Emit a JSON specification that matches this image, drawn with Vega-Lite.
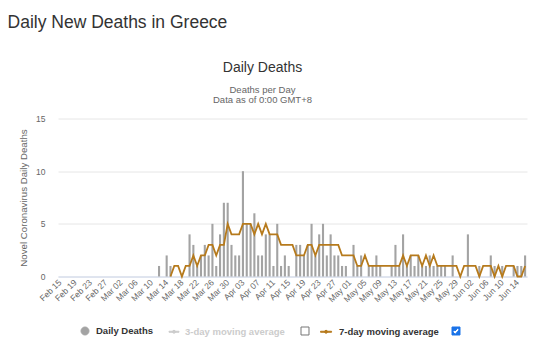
{
  "$schema": "https://vega.github.io/schema/vega-lite/v6.json",
  "autosize": {"type": "pad"},
  "padding": {"left": 7, "top": 13.5, "right": 0, "bottom": 0},
  "background": "#ffffff",
  "title": {"text": "Daily New Deaths in Greece", "anchor": "start", "frame": "bounds", "font": "Liberation Sans", "fontSize": 17.5, "fontWeight": "normal", "color": "#333333", "offset": 29, "dx": -11},
  "datasets": {
    "days": [
      {"day": "Feb 15", "deaths": 0, "ma7": null}, {"day": "Feb 16", "deaths": 0, "ma7": null}, {"day": "Feb 17", "deaths": 0, "ma7": null}, {"day": "Feb 18", "deaths": 0, "ma7": null}, {"day": "Feb 19", "deaths": 0, "ma7": null}, {"day": "Feb 20", "deaths": 0, "ma7": null}, {"day": "Feb 21", "deaths": 0, "ma7": null}, {"day": "Feb 22", "deaths": 0, "ma7": null}, {"day": "Feb 23", "deaths": 0, "ma7": null}, {"day": "Feb 24", "deaths": 0, "ma7": null}, {"day": "Feb 25", "deaths": 0, "ma7": null}, {"day": "Feb 26", "deaths": 0, "ma7": null}, {"day": "Feb 27", "deaths": 0, "ma7": null}, {"day": "Feb 28", "deaths": 0, "ma7": null}, {"day": "Feb 29", "deaths": 0, "ma7": null},
      {"day": "Mar 01", "deaths": 0, "ma7": null}, {"day": "Mar 02", "deaths": 0, "ma7": null}, {"day": "Mar 03", "deaths": 0, "ma7": null}, {"day": "Mar 04", "deaths": 0, "ma7": null}, {"day": "Mar 05", "deaths": 0, "ma7": null}, {"day": "Mar 06", "deaths": 0, "ma7": null}, {"day": "Mar 07", "deaths": 0, "ma7": null}, {"day": "Mar 08", "deaths": 0, "ma7": null}, {"day": "Mar 09", "deaths": 0, "ma7": null}, {"day": "Mar 10", "deaths": 0, "ma7": null}, {"day": "Mar 11", "deaths": 0, "ma7": null},
      {"day": "Mar 12", "deaths": 1, "ma7": null}, {"day": "Mar 13", "deaths": 0, "ma7": null}, {"day": "Mar 14", "deaths": 2, "ma7": null}, {"day": "Mar 15", "deaths": 1, "ma7": 0}, {"day": "Mar 16", "deaths": 0, "ma7": 1}, {"day": "Mar 17", "deaths": 0, "ma7": 1}, {"day": "Mar 18", "deaths": 0, "ma7": 0}, {"day": "Mar 19", "deaths": 0, "ma7": 1}, {"day": "Mar 20", "deaths": 4, "ma7": 1}, {"day": "Mar 21", "deaths": 3, "ma7": 2}, {"day": "Mar 22", "deaths": 1, "ma7": 1}, {"day": "Mar 23", "deaths": 2, "ma7": 2}, {"day": "Mar 24", "deaths": 3, "ma7": 2}, {"day": "Mar 25", "deaths": 2, "ma7": 3}, {"day": "Mar 26", "deaths": 5, "ma7": 3}, {"day": "Mar 27", "deaths": 1, "ma7": 2}, {"day": "Mar 28", "deaths": 4, "ma7": 3}, {"day": "Mar 29", "deaths": 7, "ma7": 3}, {"day": "Mar 30", "deaths": 7, "ma7": 5}, {"day": "Mar 31", "deaths": 3, "ma7": 4},
      {"day": "Apr 01", "deaths": 2, "ma7": 4}, {"day": "Apr 02", "deaths": 2, "ma7": 4}, {"day": "Apr 03", "deaths": 10, "ma7": 5}, {"day": "Apr 04", "deaths": 5, "ma7": 5}, {"day": "Apr 05", "deaths": 5, "ma7": 5}, {"day": "Apr 06", "deaths": 6, "ma7": 4}, {"day": "Apr 07", "deaths": 2, "ma7": 5}, {"day": "Apr 08", "deaths": 2, "ma7": 4}, {"day": "Apr 09", "deaths": 4, "ma7": 5}, {"day": "Apr 10", "deaths": 4, "ma7": 4}, {"day": "Apr 11", "deaths": 1, "ma7": 4}, {"day": "Apr 12", "deaths": 5, "ma7": 4}, {"day": "Apr 13", "deaths": 1, "ma7": 3}, {"day": "Apr 14", "deaths": 2, "ma7": 3}, {"day": "Apr 15", "deaths": 1, "ma7": 3}, {"day": "Apr 16", "deaths": 0, "ma7": 3}, {"day": "Apr 17", "deaths": 3, "ma7": 2}, {"day": "Apr 18", "deaths": 3, "ma7": 2}, {"day": "Apr 19", "deaths": 2, "ma7": 2}, {"day": "Apr 20", "deaths": 3, "ma7": 3}, {"day": "Apr 21", "deaths": 5, "ma7": 3}, {"day": "Apr 22", "deaths": 2, "ma7": 2}, {"day": "Apr 23", "deaths": 4, "ma7": 3}, {"day": "Apr 24", "deaths": 5, "ma7": 3}, {"day": "Apr 25", "deaths": 2, "ma7": 3}, {"day": "Apr 26", "deaths": 4, "ma7": 3}, {"day": "Apr 27", "deaths": 2, "ma7": 3}, {"day": "Apr 28", "deaths": 2, "ma7": 3}, {"day": "Apr 29", "deaths": 1, "ma7": 2}, {"day": "Apr 30", "deaths": 1, "ma7": 2},
      {"day": "May 01", "deaths": 0, "ma7": 2}, {"day": "May 02", "deaths": 3, "ma7": 2}, {"day": "May 03", "deaths": 1, "ma7": 1}, {"day": "May 04", "deaths": 2, "ma7": 1}, {"day": "May 05", "deaths": 0, "ma7": 2}, {"day": "May 06", "deaths": 1, "ma7": 1}, {"day": "May 07", "deaths": 1, "ma7": 1}, {"day": "May 08", "deaths": 2, "ma7": 1}, {"day": "May 09", "deaths": 1, "ma7": 1}, {"day": "May 10", "deaths": 0, "ma7": 1}, {"day": "May 11", "deaths": 0, "ma7": 1}, {"day": "May 12", "deaths": 1, "ma7": 1}, {"day": "May 13", "deaths": 3, "ma7": 1}, {"day": "May 14", "deaths": 1, "ma7": 1}, {"day": "May 15", "deaths": 4, "ma7": 2}, {"day": "May 16", "deaths": 1, "ma7": 1}, {"day": "May 17", "deaths": 2, "ma7": 2}, {"day": "May 18", "deaths": 1, "ma7": 2}, {"day": "May 19", "deaths": 2, "ma7": 2}, {"day": "May 20", "deaths": 1, "ma7": 1}, {"day": "May 21", "deaths": 1, "ma7": 2}, {"day": "May 22", "deaths": 2, "ma7": 1}, {"day": "May 23", "deaths": 1, "ma7": 2}, {"day": "May 24", "deaths": 1, "ma7": 1}, {"day": "May 25", "deaths": 1, "ma7": 1}, {"day": "May 26", "deaths": 1, "ma7": 1}, {"day": "May 27", "deaths": 0, "ma7": 1}, {"day": "May 28", "deaths": 2, "ma7": 1}, {"day": "May 29", "deaths": 0, "ma7": 1}, {"day": "May 30", "deaths": 0, "ma7": 0}, {"day": "May 31", "deaths": 0, "ma7": 1},
      {"day": "Jun 01", "deaths": 4, "ma7": 1}, {"day": "Jun 02", "deaths": 0, "ma7": 1}, {"day": "Jun 03", "deaths": 0, "ma7": 1}, {"day": "Jun 04", "deaths": 1, "ma7": 0}, {"day": "Jun 05", "deaths": 0, "ma7": 1}, {"day": "Jun 06", "deaths": 0, "ma7": 1}, {"day": "Jun 07", "deaths": 2, "ma7": 1}, {"day": "Jun 08", "deaths": 1, "ma7": 0}, {"day": "Jun 09", "deaths": 0, "ma7": 1}, {"day": "Jun 10", "deaths": 1, "ma7": 0}, {"day": "Jun 11", "deaths": 0, "ma7": 1}, {"day": "Jun 12", "deaths": 0, "ma7": 1}, {"day": "Jun 13", "deaths": 1, "ma7": 1}, {"day": "Jun 14", "deaths": 1, "ma7": 0}, {"day": "Jun 15", "deaths": 1, "ma7": 0}, {"day": "Jun 16", "deaths": 2, "ma7": 1}
    ],
    "legend": [
      {"series": "Daily Deaths"}, {"series": "3-day moving average"}, {"series": "b1"}, {"series": "7-day moving average"}, {"series": "b2"}
    ]
  },
  "config": {
    "view": {"stroke": null},
    "font": "Liberation Sans",
    "legend": {
      "symbolSize": 169,
      "symbolStrokeWidth": 1,
      "symbolOpacity": 1,
      "labelOffset": 4,
      "columnPadding": 2,
      "padding": 0,
      "labelFont": "Liberation Sans",
      "labelFontSize": 9.5,
      "labelFontWeight": "bold",
      "titleFontSize": 0
    }
  },
  "vconcat": [
    {
      "width": 469,
      "height": 158,
      "title": {
        "text": "Daily Deaths",
        "subtitle": ["Deaths per Day", "Data as of 0:00 GMT+8"],
        "anchor": "middle",
        "frame": "group",
        "dx": -30,
        "font": "Liberation Sans",
        "fontSize": 14,
        "fontWeight": "normal",
        "color": "#333333",
        "subtitleFont": "Liberation Sans",
        "subtitleFontSize": 9.5,
        "subtitleColor": "#666666",
        "subtitlePadding": 10.5,
        "subtitleLineHeight": 10,
        "offset": 10
      },
      "layer": [
        {
          "data": {"name": "days"},
          "mark": {"type": "bar", "color": "#a3a3a3", "width": {"band": 0.55}},
          "encoding": {
            "x": {
              "field": "day", "type": "ordinal", "sort": null,
              "scale": {"paddingInner": 0, "paddingOuter": 0},
              "axis": {
                "title": null,
                "values": ["Feb 15", "Feb 19", "Feb 23", "Feb 27", "Mar 02", "Mar 06", "Mar 10", "Mar 14", "Mar 18", "Mar 22", "Mar 26", "Mar 30", "Apr 03", "Apr 07", "Apr 11", "Apr 15", "Apr 19", "Apr 23", "Apr 27", "May 01", "May 05", "May 09", "May 13", "May 17", "May 21", "May 25", "May 29", "Jun 02", "Jun 06", "Jun 10", "Jun 14"],
                "labelAngle": -45,
                "labelAlign": "right",
                "labelBaseline": "middle",
                "labelFont": "Liberation Sans",
                "labelFontSize": 8.5,
                "labelColor": "#666666",
                "labelPadding": 4,
                "labelOverlap": false,
                "ticks": false,
                "grid": false,
                "domainColor": "#ccd6eb",
                "domainWidth": 1
              }
            },
            "y": {
              "field": "deaths", "type": "quantitative",
              "scale": {"domain": [0, 15], "nice": false},
              "axis": {
                "values": [0, 5, 10, 15],
                "title": "Novel Coronavirus Daily Deaths",
                "titleFont": "Liberation Sans",
                "titleFontSize": 9.7,
                "titleFontWeight": "normal",
                "titleColor": "#666666",
                "titlePadding": 7,
                "labelFont": "Liberation Sans",
                "labelFontSize": 8.5,
                "labelColor": "#666666",
                "labelPadding": 13,
                "domain": false,
                "ticks": false,
                "grid": true,
                "gridColor": "#e6e6e6"
              }
            }
          }
        },
        {
          "data": {"name": "days"},
          "mark": {"type": "line", "color": "#b67a1c", "strokeWidth": 1.8},
          "encoding": {
            "x": {"field": "day", "type": "ordinal", "sort": null},
            "y": {"field": "ma7", "type": "quantitative"}
          }
        },
        {
          "data": {"name": "legend"},
          "mark": {"type": "point", "filled": true, "opacity": 0},
          "encoding": {
            "fill": {
              "field": "series", "type": "nominal",
              "scale": {"domain": ["Daily Deaths", "3-day moving average", "b1", "7-day moving average", "b2"], "range": ["#a3a3a3", "#cccccc", "#ffffff", "#b67a1c", "#1a73e8"]},
              "legend": {"orient": "none", "legendX": 20, "legendY": 205.5, "direction": "horizontal", "title": null,
                "labelExpr": "datum.value == 'b1' || datum.value == 'b2' ? '' : datum.value == 'Daily Deaths' ? 'Daily Deaths\u00a0\u00a0\u00a0\u00a0\u200b' : datum.value == '3-day moving average' ? '3-day moving average\u00a0\u00a0\u00a0\u00a0\u200b' : '7-day moving average\u00a0\u00a0\u00a0\u200b'",
                "labelColor": {"expr": "datum.value == '3-day moving average' ? '#cccccc' : '#333333'"}}
            },
            "stroke": {
              "field": "series", "type": "nominal",
              "scale": {"domain": ["Daily Deaths", "3-day moving average", "b1", "7-day moving average", "b2"], "range": ["#a3a3a3", "#cccccc", "#767676", "#b67a1c", "#1a73e8"]},
              "legend": {"orient": "none", "legendX": 20, "legendY": 205.5, "direction": "horizontal", "title": null,
                "labelExpr": "datum.value == 'b1' || datum.value == 'b2' ? '' : datum.value == 'Daily Deaths' ? 'Daily Deaths\u00a0\u00a0\u00a0\u00a0\u200b' : datum.value == '3-day moving average' ? '3-day moving average\u00a0\u00a0\u00a0\u00a0\u200b' : '7-day moving average\u00a0\u00a0\u00a0\u200b'",
                "labelColor": {"expr": "datum.value == '3-day moving average' ? '#cccccc' : '#333333'"}}
            },
            "shape": {
              "field": "series", "type": "nominal",
              "scale": {"domain": ["Daily Deaths", "3-day moving average", "b1", "7-day moving average", "b2"], "range": [
                "M-0.615,0A0.615,0.615 0 1,1 0.615,0A0.615,0.615 0 1,1 -0.615,0Z",
                "M-0.77,-0.077H0.77V0.077H-0.77ZM-0.23,0A0.23,0.23 0 1,1 0.23,0A0.23,0.23 0 1,1 -0.23,0Z",
                "M-0.615,-0.615H0.615V0.615H-0.615Z",
                "M-1.15,-0.077H0.55V0.077H-1.15ZM-0.53,0A0.23,0.23 0 1,1 -0.07,0A0.23,0.23 0 1,1 -0.53,0Z",
                "M-0.615,-0.615H0.615V0.615H-0.615ZM-0.5,0.131L-0.123,0.508L0.508,-0.185L0.231,-0.431L-0.123,-0.015L-0.238,-0.131Z"
              ]},
              "legend": {"orient": "none", "legendX": 20, "legendY": 205.5, "direction": "horizontal", "title": null,
                "labelExpr": "datum.value == 'b1' || datum.value == 'b2' ? '' : datum.value == 'Daily Deaths' ? 'Daily Deaths\u00a0\u00a0\u00a0\u00a0\u200b' : datum.value == '3-day moving average' ? '3-day moving average\u00a0\u00a0\u00a0\u00a0\u200b' : '7-day moving average\u00a0\u00a0\u00a0\u200b'",
                "labelColor": {"expr": "datum.value == '3-day moving average' ? '#cccccc' : '#333333'"}}
            }
          }
        }
      ]
    }
  ]
}
